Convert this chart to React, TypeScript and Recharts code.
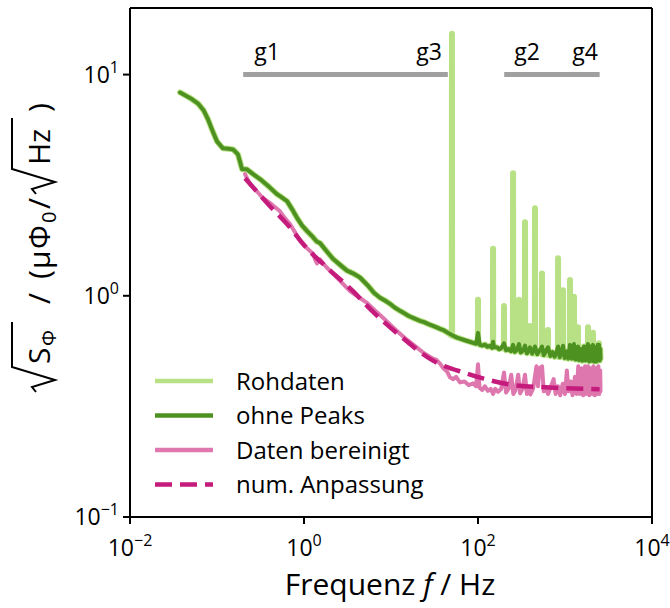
import React from 'react';
import { ComposedChart, Line, XAxis, YAxis, ReferenceLine, Scatter } from 'recharts';

const FONT = '"Open Sans", "Noto Sans", sans-serif';

// axis ticks
const xTicks = [0.01, 1, 100, 10000];
const xTickExp = ['\u22122', '0', '2', '4'];
const yTicks = [0.1, 1, 10];
const yTickExp = ['\u22121', '0', '1'];

// "ohne Peaks" (f in Hz, value)
const ohnePeaks: number[][] = [
  [0.0376, 8.3], [0.05, 7.8], [0.0605, 7.4], [0.07, 6.9], [0.0789, 6.27], [0.09, 5.5],
  [0.1, 4.99], [0.117, 4.64], [0.135, 4.62], [0.153, 4.59], [0.174, 4.36], [0.185, 4.0],
  [0.194, 3.73], [0.221, 3.73], [0.26, 3.55], [0.312, 3.37], [0.4, 3.1], [0.49, 2.88],
  [0.56, 2.78], [0.638, 2.68], [0.75, 2.42], [0.85, 2.22], [0.948, 2.08], [1.1, 1.95],
  [1.27, 1.84], [1.4, 1.76], [1.53, 1.73], [1.8, 1.6], [2.15, 1.47], [2.6, 1.38],
  [3.12, 1.3], [3.7, 1.26], [4.4, 1.21], [5.45, 1.11], [6.4, 1.03], [7.48, 0.98],
  [8.6, 0.95], [9.75, 0.92], [11, 0.885], [12.7, 0.855], [14.5, 0.83], [16, 0.81],
  [18.5, 0.79], [21.5, 0.771], [24, 0.76], [28, 0.74], [32, 0.725], [36.6, 0.709],
  [40, 0.7], [45, 0.68], [50, 0.665], [57.4, 0.647], [66, 0.635], [72, 0.628],
  [80, 0.62], [88, 0.613], [95, 0.607], [100, 0.68], [105, 0.6], [112, 0.596],
  [120, 0.602], [128, 0.588], [137, 0.594], [145, 0.582], [149, 0.62], [153, 0.585],
  [165, 0.585], [175, 0.574], [185, 0.58], [199, 0.61], [210, 0.568], [225, 0.575],
  [240, 0.562], [253, 0.6], [265, 0.558], [280, 0.57], [296, 0.605], [310, 0.555],
  [330, 0.566], [347, 0.595], [365, 0.55], [380, 0.562], [396, 0.585], [420, 0.548],
  [452, 0.59], [480, 0.545], [510, 0.565], [544, 0.59], [570, 0.54], [600, 0.56],
  [638, 0.585], [680, 0.535], [720, 0.556], [760, 0.53], [800, 0.556], [832, 0.59],
  [870, 0.528], [910, 0.56], [949, 0.595], [990, 0.523], [1040, 0.56], [1090, 0.52],
  [1141, 0.6], [1200, 0.52], [1268, 0.605], [1320, 0.515], [1409, 0.59], [1450, 0.512],
  [1520, 0.575], [1580, 0.508], [1650, 0.59], [1720, 0.51], [1780, 0.585], [1837, 0.605],
  [1900, 0.505], [1960, 0.59], [2030, 0.508], [2098, 0.6], [2160, 0.505], [2230, 0.585],
  [2300, 0.505], [2380, 0.6], [2460, 0.6], [2500, 0.51], [2540, 0.575], [2560, 0.52],
];

// "Rohdaten" peaks: [f, base, peak]
const rohSpikes: number[][] = [
  [50.2, 0.66, 15.3], [100, 0.61, 0.96], [149, 0.59, 1.63], [199, 0.58, 0.9],
  [253, 0.57, 3.58], [296, 0.565, 0.96], [347, 0.56, 2.15], [396, 0.555, 0.73],
  [452, 0.55, 2.49], [544, 0.545, 1.26], [638, 0.54, 0.7], [832, 0.53, 1.48],
  [949, 0.53, 1.06], [1141, 0.525, 1.18], [1268, 0.52, 0.99], [1409, 0.52, 0.72],
  [1837, 0.515, 0.72], [2098, 0.515, 0.68], [2460, 0.51, 0.61],
];

// "Daten bereinigt"
const bereinigt: number[][] = [
  [0.21, 3.55], [0.239, 3.2], [0.28, 3.0], [0.338, 2.76], [0.42, 2.6], [0.53, 2.41],
  [0.6, 2.25], [0.69, 2.11], [0.8, 1.92], [0.9, 1.77], [1.1, 1.63], [1.27, 1.55],
  [1.35, 1.45], [1.41, 1.4], [1.53, 1.46], [1.8, 1.35], [2.15, 1.26], [2.7, 1.15],
  [3.38, 1.05], [4.2, 0.99], [5.3, 0.929], [6.5, 0.86], [8.09, 0.796], [10, 0.735],
  [12.7, 0.674], [15.5, 0.63], [19.9, 0.583], [24, 0.55], [30.4, 0.52], [33, 0.515],
  [36.6, 0.494], [40, 0.47], [44, 0.455], [47.6, 0.428], [52, 0.42], [56, 0.43],
  [62.1, 0.406], [70, 0.41], [78, 0.395], [87.7, 0.402], [95, 0.39], [100, 0.49],
  [104, 0.385], [112, 0.375], [120, 0.39], [130, 0.372], [140, 0.38], [149, 0.36],
  [158, 0.38], [170, 0.368], [185, 0.38], [199, 0.45], [210, 0.365], [225, 0.38],
  [241, 0.44], [255, 0.36], [270, 0.375], [290, 0.44], [305, 0.362], [325, 0.38],
  [347, 0.44], [365, 0.36], [385, 0.375], [400, 0.358], [430, 0.38], [470, 0.48],
  [490, 0.39], [510, 0.47], [545, 0.48], [570, 0.37], [600, 0.385], [640, 0.36],
  [690, 0.39], [740, 0.42], [780, 0.36], [830, 0.39], [880, 0.355], [940, 0.4],
  [1000, 0.36], [1050, 0.46], [1100, 0.37], [1160, 0.41], [1220, 0.355], [1300, 0.43],
  [1360, 0.36], [1420, 0.48], [1480, 0.36], [1550, 0.47], [1620, 0.355], [1700, 0.48],
  [1760, 0.36], [1840, 0.48], [1900, 0.355], [1980, 0.47], [2050, 0.36], [2120, 0.48],
  [2200, 0.355], [2280, 0.47], [2350, 0.36], [2420, 0.48], [2480, 0.36], [2540, 0.46],
  [2560, 0.37],
];

// "num. Anpassung"
const anpassung: number[][] = [
  [0.21, 3.4], [0.407, 2.54], [0.638, 2.11], [1.08, 1.64], [1.84, 1.34], [3.66, 1.05],
  [5.74, 0.873], [12.7, 0.66], [30.4, 0.509], [74.8, 0.445], [114, 0.423], [280, 0.393],
  [672, 0.385], [2500, 0.378],
];

// measurement ranges g1..g4
const rangeA: number[][] = [[0.2, 10], [45, 10]];
const rangeB: number[][] = [[200, 10], [2500, 10]];
const rangeLabels = [
  { f: 0.376, v: 11.7, t: 'g1' },
  { f: 27.4, v: 11.7, t: 'g3' },
  { f: 366, v: 11.7, t: 'g2' },
  { f: 1700, v: 11.7, t: 'g4' },
];

const toPts = (a: number[][]) => a.map(([f, v]) => ({ f, v }));

const rohdaten = (() => {
  const base = ohnePeaks.filter(
    ([f]) => !rohSpikes.some(([fs]) => Math.abs(Math.log10(f / fs)) < 0.006)
  );
  const spk: number[][] = [];
  rohSpikes.forEach(([f, b, p]) => {
    spk.push([f * 0.996, b], [f, p], [f * 1.004, b]);
  });
  return toPts([...base, ...spk].sort((a, b) => a[0] - b[0]));
})();

const C_LIGHT = '#b8e186';
const C_DARK = '#4d9221';
const C_PINK = '#de77ae';
const C_MAG = '#c51b7d';
const C_GRAY = '#a0a0a0';

const XTick = (props: any) => {
  const { x, y, payload } = props;
  const i = xTicks.indexOf(payload.value);
  return (
    <text x={x} y={y + 30} textAnchor="middle" fontSize={23} fontFamily={FONT} fill="#000">
      10<tspan dy={-10} fontSize={16}>{xTickExp[i]}</tspan>
    </text>
  );
};

const YTick = (props: any) => {
  const { x, y, payload } = props;
  const i = yTicks.indexOf(payload.value);
  return (
    <text x={x} y={y + 8} textAnchor="end" fontSize={23} fontFamily={FONT} fill="#000">
      10<tspan dy={-10} fontSize={16}>{yTickExp[i]}</tspan>
    </text>
  );
};

const RangeLabel = (props: any) => {
  const { cx, cy, payload } = props;
  return (
    <text x={cx} y={cy} textAnchor="middle" fontSize={23} fontFamily={FONT} fill="#000">
      {payload.t}
    </text>
  );
};

const YLabel = () => {
  const fs = 30;
  const sub = 20;
  const rad = (u0: number, u1: number) =>
    `M${u0},-14 L${u0 + 5},-18 L${u0 + 12},5 L${u0 + 25},-38 L${u1},-38`;
  return (
    <g transform="translate(50, 392) rotate(-90)" fontFamily={FONT} fill="#000">
      <path d={rad(0, 70)} stroke="#000" strokeWidth={2} fill="none" />
      <text x={28} y={0} fontSize={fs}>S</text>
      <text x={46} y={6} fontSize={sub}>Φ</text>
      <text x={88} y={0} fontSize={fs}>/</text>
      <text x={113} y={0} fontSize={fs}>(</text>
      <text x={123} y={0} fontSize={fs}>μ</text>
      <text x={143} y={0} fontSize={fs}>Φ</text>
      <text x={169} y={6} fontSize={sub}>0</text>
      <text x={183} y={0} fontSize={fs}>/</text>
      <path d={rad(198, 274)} stroke="#000" strokeWidth={2} fill="none" />
      <text x={227} y={0} fontSize={fs}>Hz</text>
      <text x={280} y={0} fontSize={fs}>)</text>
    </g>
  );
};

const legendItems = [
  { label: 'Rohdaten', color: C_LIGHT, dash: undefined as string | undefined },
  { label: 'ohne Peaks', color: C_DARK, dash: undefined },
  { label: 'Daten bereinigt', color: C_PINK, dash: undefined },
  { label: 'num. Anpassung', color: C_MAG, dash: '17 8' },
];

const Overlay = () => (
  <svg
    width={670}
    height={608}
    style={{ position: 'absolute', left: 0, top: 0, pointerEvents: 'none' }}
  >
    <YLabel />
    {legendItems.map((it, i) => {
      const y = 381 + i * 34.5;
      return (
        <g key={it.label}>
          <line
            x1={155}
            x2={213}
            y1={y}
            y2={y}
            stroke={it.color}
            strokeWidth={4.5}
            strokeDasharray={it.dash}
          />
          <text x={236} y={y + 8.5} fontSize={24} fontFamily={FONT} fill="#000">
            {it.label}
          </text>
        </g>
      );
    })}
    <text x={390} y={595} textAnchor="middle" fontSize={30} fontFamily={FONT} fill="#000">
      Frequenz <tspan fontStyle="italic">f</tspan> / Hz
    </text>
  </svg>
);

export default function App() {
  return (
    <div style={{ position: 'absolute', left: 0, top: 0, width: 670, height: 608, background: '#fff' }}>
      <ComposedChart width={670} height={608} margin={{ top: 8, right: 18, bottom: 0, left: 0 }}>
        <XAxis
          type="number"
          dataKey="f"
          scale="log"
          domain={[0.01, 10000]}
          ticks={xTicks}
          interval={0}
          allowDataOverflow
          height={91}
          tick={<XTick />}
          tickSize={7}
          axisLine={{ stroke: '#000', strokeWidth: 2 }}
          tickLine={{ stroke: '#000', strokeWidth: 2 }}
        />
        <YAxis
          type="number"
          dataKey="v"
          scale="log"
          domain={[0.1, 20]}
          ticks={yTicks}
          interval={0}
          allowDataOverflow
          width={130}
          tick={<YTick />}
          tickSize={7}
          tickMargin={4}
          axisLine={{ stroke: '#000', strokeWidth: 2 }}
          tickLine={{ stroke: '#000', strokeWidth: 2 }}
        />
        <ReferenceLine y={20} stroke="#000" strokeWidth={2} />
        <ReferenceLine x={10000} stroke="#000" strokeWidth={2} />
        <Line data={toPts(rangeA)} dataKey="v" stroke={C_GRAY} strokeWidth={5} dot={false} isAnimationActive={false} type="linear" />
        <Line data={toPts(rangeB)} dataKey="v" stroke={C_GRAY} strokeWidth={5} dot={false} isAnimationActive={false} type="linear" />
        <Scatter data={rangeLabels} dataKey="v" shape={<RangeLabel />} isAnimationActive={false} />
        <Line data={rohdaten} dataKey="v" stroke={C_LIGHT} strokeWidth={6} dot={false} isAnimationActive={false} type="linear" strokeLinejoin="round" strokeLinecap="round" />
        <Line data={toPts(ohnePeaks)} dataKey="v" stroke={C_DARK} strokeWidth={4} dot={false} isAnimationActive={false} type="linear" strokeLinejoin="round" strokeLinecap="round" />
        <Line data={toPts(bereinigt)} dataKey="v" stroke={C_PINK} strokeWidth={4} dot={false} isAnimationActive={false} type="linear" strokeLinejoin="round" strokeLinecap="round" />
        <Line data={toPts(anpassung)} dataKey="v" stroke={C_MAG} strokeWidth={4.5} strokeDasharray="17 8" dot={false} isAnimationActive={false} type="monotone" />
      </ComposedChart>
      <Overlay />
    </div>
  );
}
